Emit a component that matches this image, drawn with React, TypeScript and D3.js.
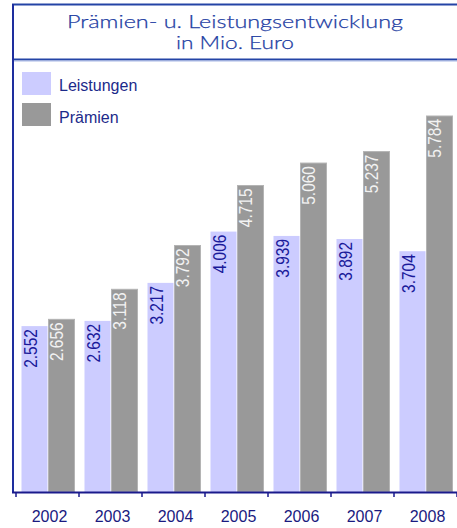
import React from "react";
import * as d3 from "d3";

const years = ["2002", "2003", "2004", "2005", "2006", "2007", "2008"];
const leistungen = [2552, 2632, 3217, 4006, 3939, 3892, 3704];
const praemien = [2656, 3118, 3792, 4715, 5060, 5237, 5784];
const seriesNames = ["Leistungen", "Prämien"];
const titleLines = ["Prämien- u. Leistungsentwicklung", "in Mio. Euro"];

const W = 457;
const H = 528;
const LAV = "#ccccff";
const GRAY = "#999999";
const NAVY = "#1a1a8c";
const TITLEBLUE = "#2444a6";
const SANS = "'Liberation Sans', Arial, sans-serif";
const TITLEFONT = "Lato, 'Noto Sans', sans-serif";

const fmt = (v: number) => d3.format(",")(v).replace(",", ".");

export default function App() {
  const x = d3.scaleBand<string>().domain(years).range([16, 457]).paddingInner(0).paddingOuter(0);
  const y = d3.scaleLinear().domain([0, 5784]).range([492, 116]);
  const bw = 26;
  const base = y(0);

  return (
    <svg width={W} height={H} style={{ position: "absolute", left: 0, top: 0 }}>
      <rect x={0} y={0} width={W} height={H} fill="#ffffff" />
      {/* title box */}
      <line x1={12} x2={457} y1={4.5} y2={4.5} stroke={TITLEBLUE} strokeWidth={2} />
      <line x1={12} x2={457} y1={59.5} y2={59.5} stroke={TITLEBLUE} strokeWidth={2} />
      <line x1={14} x2={457} y1={61} y2={61} stroke="#a8b8e6" strokeWidth={1} />
      <line x1={13} x2={13} y1={4} y2={493} stroke="#1e2e9e" strokeWidth={2} />
      <text x={235} y={27.5} textAnchor="middle" fontFamily={TITLEFONT} fontWeight={300} fontSize={18.5} fill="#1c3ca2" stroke="#1c3ca2" strokeWidth={0.25} textLength={336} lengthAdjust="spacingAndGlyphs">{titleLines[0]}</text>
      <text x={235} y={48.5} textAnchor="middle" fontFamily={TITLEFONT} fontWeight={300} fontSize={18.5} fill="#1c3ca2" stroke="#1c3ca2" strokeWidth={0.25} textLength={118} lengthAdjust="spacingAndGlyphs">{titleLines[1]}</text>

      {/* legend */}
      {seriesNames.map((n, i) => (
        <g key={n}>
          <rect x={22} y={72 + i * 31} width={29} height={23} fill={i === 0 ? LAV : GRAY} />
          <text x={59} y={91 + i * 32} fontFamily={SANS} fontSize={16} fill="#1c2a8a">{n}</text>
        </g>
      ))}

      {/* bars */}
      {years.map((yr, i) => {
        const x0 = x(yr)!;
        const lx = x0 + 5.5;
        const px = x0 + 32.5;
        const ly = y(leistungen[i]);
        const py = y(praemien[i]);
        return (
          <g key={yr}>
            <rect x={lx} y={ly} width={bw} height={base - ly} fill={LAV} />
            <rect x={px} y={py} width={bw} height={base - py} fill={GRAY} stroke="#b4b4b4" strokeWidth={1} />
            <text transform={`translate(${lx + 15},${ly + 3}) rotate(-90) scale(0.86,1)`} textAnchor="end" fontFamily={SANS} fontSize={18} fill="#1a1a9a">{fmt(leistungen[i])}</text>
            <text transform={`translate(${px + 14.5},${py + 3}) rotate(-90) scale(0.86,1)`} textAnchor="end" fontFamily={SANS} fontSize={18} fill="#f2f2f2">{fmt(praemien[i])}</text>
          </g>
        );
      })}

      {/* axis */}
      <line x1={12} x2={457} y1={492.5} y2={492.5} stroke={NAVY} strokeWidth={2} />
      {[...years.map((yr) => x(yr)!), 457].map((t, i) => (
        <line key={i} x1={t} x2={t} y1={492} y2={497} stroke={NAVY} strokeWidth={1.5} />
      ))}
      {years.map((yr) => (
        <text key={yr} x={x(yr)! + x.bandwidth() / 2 + 2} y={522} textAnchor="middle" fontFamily={SANS} fontSize={16} fill="#1a1a80">{yr}</text>
      ))}
    </svg>
  );
}
